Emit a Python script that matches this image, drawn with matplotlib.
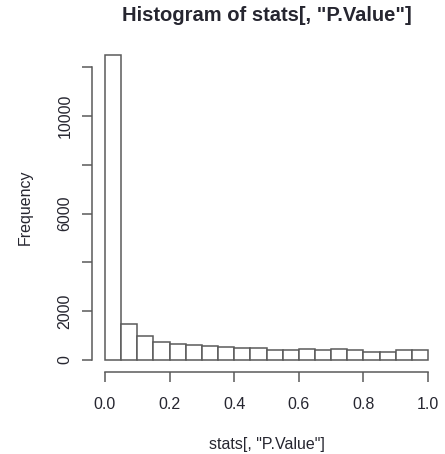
import numpy as np
import matplotlib
matplotlib.use("Agg")
import matplotlib.pyplot as plt

# bin edges and counts of the p-value histogram
bin_edges = np.linspace(0.0, 1.0, 21)
counts = [12500, 1450, 980, 720, 640, 610, 580, 545, 500, 480,
          410, 385, 435, 390, 435, 395, 320, 320, 410, 410]
x_ticks = [0.0, 0.2, 0.4, 0.6, 0.8, 1.0]
y_ticks = [0, 2000, 4000, 6000, 8000, 10000, 12000]
y_tick_labels = ["0", "2000", "", "6000", "", "10000", ""]

plt.rcParams["font.family"] = ["Liberation Sans", "DejaVu Sans"]
line_col = "#5a5a5a"
text_col = "#262630"

fig = plt.figure(figsize=(4.45, 4.54), dpi=100)
ax = fig.add_axes([92 / 445, 1 - 372 / 454, 349 / 445, 329 / 454])

ax.bar(bin_edges[:-1], counts, width=np.diff(bin_edges), align="edge",
       facecolor="white", edgecolor=line_col, linewidth=1.1)

ax.set_xlim(-0.04, 1.04)
ax.set_ylim(-500, 13000)

for side in ("top", "right"):
    ax.spines[side].set_visible(False)
for side in ("left", "bottom"):
    ax.spines[side].set_color(line_col)
    ax.spines[side].set_linewidth(1.1)
ax.spines["bottom"].set_bounds(0.0, 1.0)
ax.spines["left"].set_bounds(0, 12000)

ax.set_xticks(x_ticks)
ax.set_xticklabels([f"{t:.1f}" for t in x_ticks])
ax.set_yticks(y_ticks)
ax.set_yticklabels(y_tick_labels, rotation=90, va="center")
ax.tick_params(axis="both", direction="out", length=7.2, width=1.1,
               color=line_col, labelcolor=text_col, labelsize=11.5)
ax.tick_params(axis="x", pad=11)
ax.tick_params(axis="y", pad=7)

ax.set_title('Histogram of stats[, "P.Value"]', fontsize=14.5,
             fontweight="bold", color=text_col, pad=16)
ax.set_xlabel('stats[, "P.Value"]', fontsize=11.5, color=text_col, labelpad=18)
ax.set_ylabel("Frequency", fontsize=11.5, color=text_col, labelpad=18)

fig.savefig("out.png", dpi=100, facecolor="white")
